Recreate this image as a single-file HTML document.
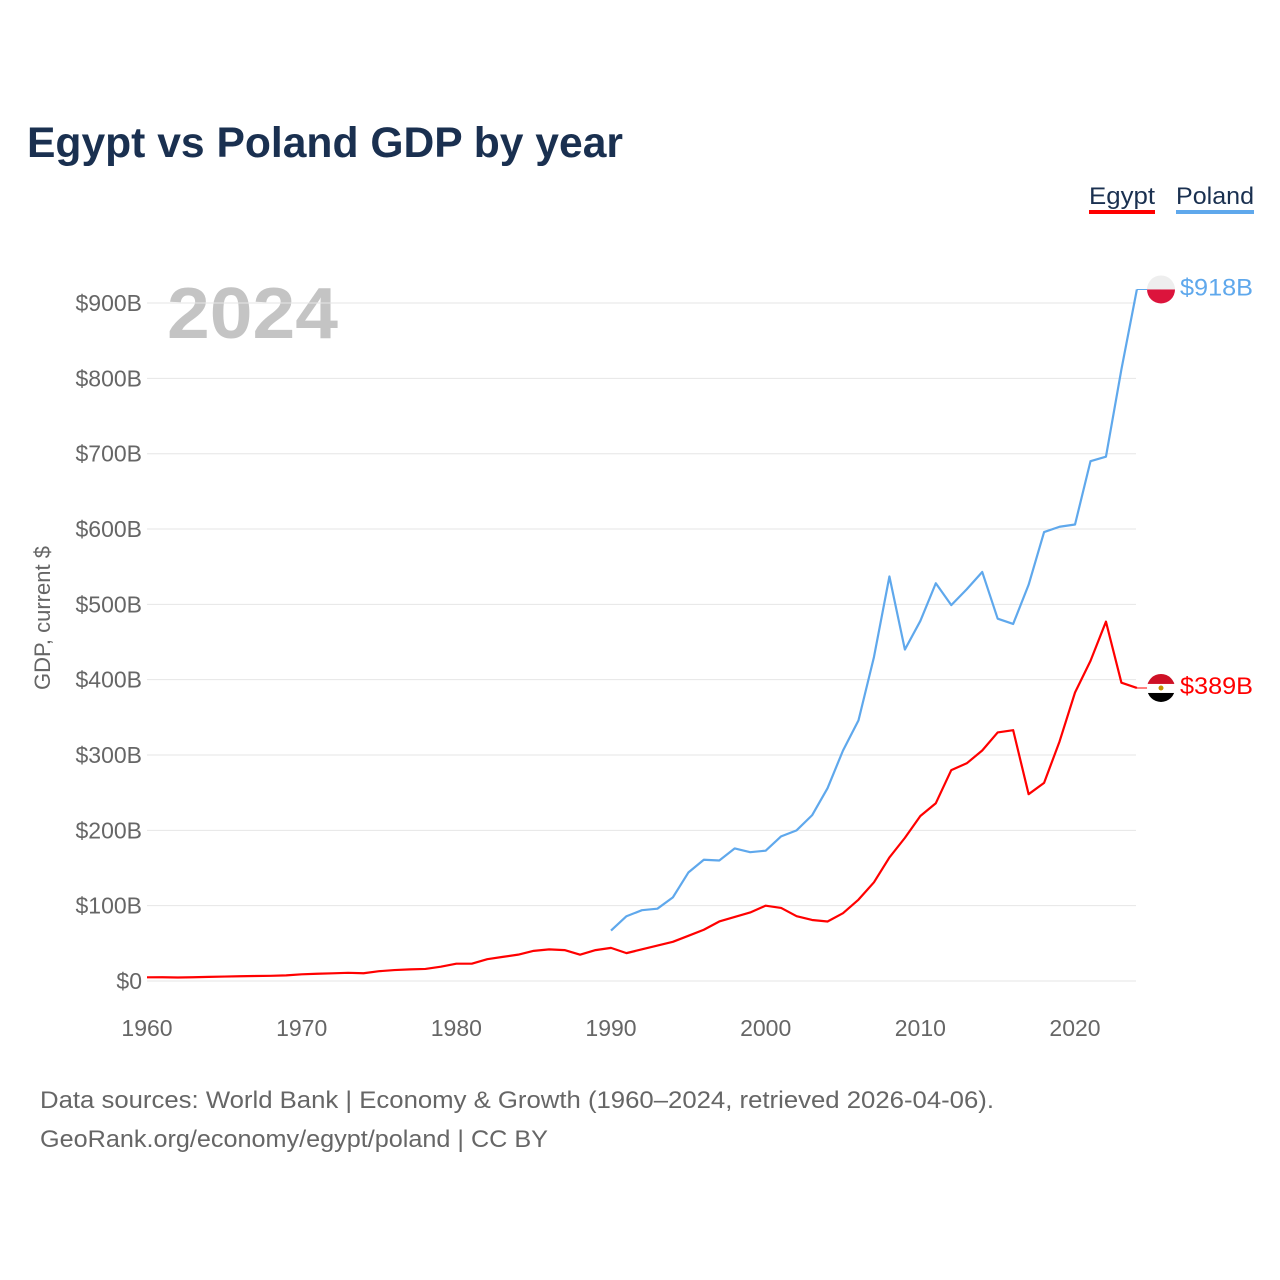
<!DOCTYPE html>
<html><head><meta charset="utf-8"><style>
body{margin:0;background:#fff;font-family:"Liberation Sans",sans-serif}
svg{display:block}
</style></head><body>
<svg id="c" width="1280" height="1280">
<text x="27" y="157" font-size="43" font-weight="bold" fill="#1a3050" textLength="596" lengthAdjust="spacingAndGlyphs">Egypt vs Poland GDP by year</text>
<g>
<text x="1089" y="204" font-size="24" fill="#1a3050" textLength="66" lengthAdjust="spacingAndGlyphs">Egypt</text>
<rect x="1089" y="210" width="66" height="4" fill="#ff0000"/>
<text x="1176" y="204" font-size="24" fill="#1a3050" textLength="78" lengthAdjust="spacingAndGlyphs">Poland</text>
<rect x="1176" y="210" width="78" height="4" fill="#5fa8ec"/>
</g>
<text x="167" y="338" font-size="72" font-weight="bold" fill="#c4c4c4" textLength="171" lengthAdjust="spacingAndGlyphs">2024</text>
<text transform="translate(50,618) rotate(-90)" text-anchor="middle" font-size="22" fill="#666">GDP, current $</text>
<g id="grid"></g><g id="series"></g>
<text x="40" y="1108" font-size="24" fill="#666" textLength="954" lengthAdjust="spacingAndGlyphs">Data sources: World Bank | Economy &amp; Growth (1960–2024, retrieved 2026-04-06).</text>
<text x="40" y="1147" font-size="24" fill="#666" textLength="508" lengthAdjust="spacingAndGlyphs">GeoRank.org/economy/egypt/poland | CC BY</text>
</svg>
<script>
const egyptYears=[];for(let y=1960;y<=2024;y++)egyptYears.push(y);
const egyptValues=[4.9,5.0,4.6,5.0,5.5,5.9,6.3,6.6,6.9,7.5,8.9,9.6,10.2,10.9,10.3,13,14.5,15.4,16,19,23,23,29,32,35,40,42,41,35,41,44,37,42,47,52,60,68,79,85,91,100,97,86,81,79,90,108,131,164,190,219,236,280,289,306,330,333,248,263,318,383,425,477,396,389];
const polandYears=[];for(let y=1990;y<=2024;y++)polandYears.push(y);
const polandValues=[67,86,94,96,111,144,161,160,176,171,173,192,200,220,256,306,346,430,537,440,478,528,499,520,543,481,474,526,596,603,606,690,696,812,918];
const yTicks=[0,100,200,300,400,500,600,700,800,900];
const xTicks=[1960,1970,1980,1990,2000,2010,2020];
const NS="http://www.w3.org/2000/svg";
const X=y=>147+(y-1960)*15.467, Y=v=>981-v*0.7533;
const grid=document.getElementById('grid'), ser=document.getElementById('series');
function mk(tag,at,par){const e=document.createElementNS(NS,tag);for(const k in at)e.setAttribute(k,at[k]);par.appendChild(e);return e;}
yTicks.forEach(t=>{
 const l=mk('line',{x1:147,x2:1136,y1:Y(t),y2:Y(t),stroke:'#e6e6e6','stroke-width':1},grid);
 
 
 const tx=mk('text',{x:142,y:Y(t)+8,'text-anchor':'end','font-size':23,fill:'#666'},grid);
 tx.textContent=t?'$'+t+'B':'$0';
 
 
});
xTicks.forEach(t=>{
 const tx=mk('text',{x:X(t),y:1036,'text-anchor':'middle','font-size':23,fill:'#666'},grid);
 tx.textContent=t;
 
 
});
function line(xs,vs,col,name){
 const p=mk('polyline',{points:xs.map((y,i)=>X(y)+','+Y(vs[i])).join(' '),fill:'none',stroke:col,'stroke-width':2.2,'stroke-linejoin':'round'},ser);
 
 
}
line(egyptYears,egyptValues,'#ff0000','egypt-line');
line(polandYears,polandValues,'#5fa8ec','poland-line');
function endLabel(v,col,name,top,bot,mid){
 const y=Y(v),x=1161;
 const c=mk('line',{x1:X(2024),x2:x,y1:y,y2:y,stroke:col,'stroke-width':1},ser);
 
 
 const g=mk('g',{},ser);
 
 
 mk('clipPath',{id:name+'cp'},g).appendChild(document.createElementNS(NS,'circle')).setAttribute('r','0');
 const cp=document.getElementById(name+'cp').firstChild;cp.setAttribute('cx',x);cp.setAttribute('cy',y);cp.setAttribute('r',14);
 if(mid){
  mk('rect',{x:x-14,y:y-14,width:28,height:10,fill:top,'clip-path':'url(#'+name+'cp)'},g);
  mk('rect',{x:x-14,y:y-4,width:28,height:9,fill:'#fff','clip-path':'url(#'+name+'cp)'},g);
  mk('rect',{x:x-14,y:y+5,width:28,height:10,fill:bot,'clip-path':'url(#'+name+'cp)'},g);
  mk('circle',{cx:x,cy:y,r:2.5,fill:mid},g);
 }else{
  mk('rect',{x:x-14,y:y-14,width:28,height:14,fill:top,'clip-path':'url(#'+name+'cp)'},g);
  mk('rect',{x:x-14,y:y,width:28,height:14,fill:bot,'clip-path':'url(#'+name+'cp)'},g);
 }
 const t=mk('text',{x:1180,y:y+6,'font-size':24,fill:col,textLength:73,lengthAdjust:'spacingAndGlyphs'},ser);
 t.textContent='$'+v+'B';
 
 
}
endLabel(polandValues[polandValues.length-1],'#5fa8ec','poland','#eeeeee','#dc143c',null);
endLabel(egyptValues[egyptValues.length-1],'#ff0000','egypt','#ce1126','#000000','#c09300');
</script>
</body></html>
